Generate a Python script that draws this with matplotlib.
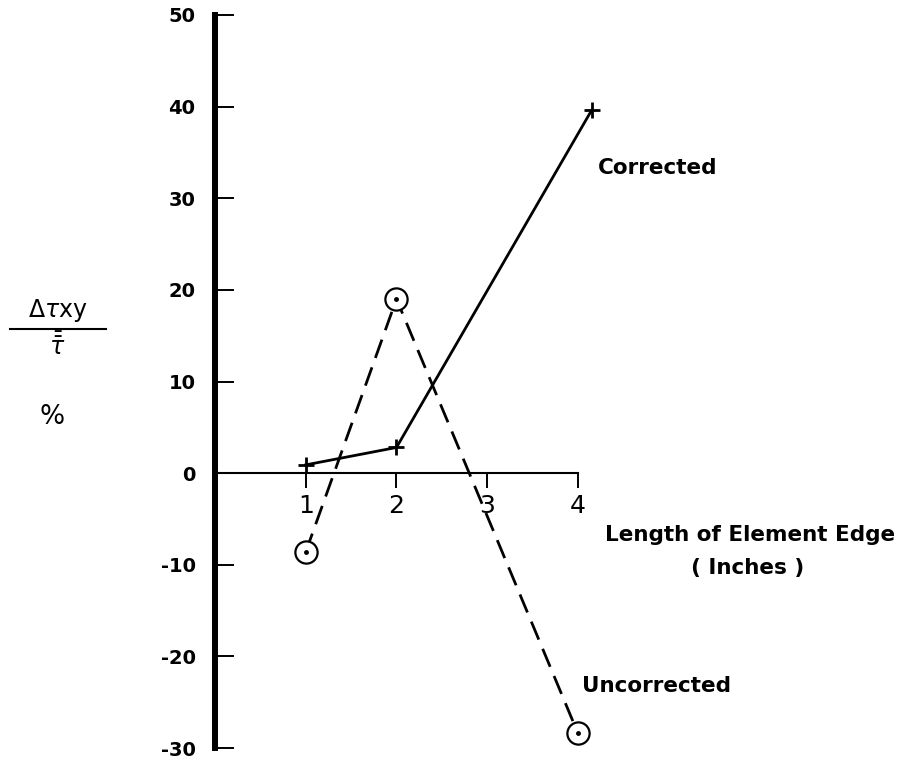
import matplotlib.pyplot as plt
from matplotlib.lines import Line2D

# Data
edge_length = [1, 2, 4]
corrected_x = [1, 2, 4.15]
corrected = [0.9, 2.8, 39.6]
uncorrected = [-8.6, 19, -28.4]

y_ticks = [50, 40, 30, 20, 10, 0, -10, -20, -30]
y_labels = ["50", "40", "30", "20", "10", "0", "-10", "-20", "-30"]
x_ticks = [1, 2, 3, 4]
x_labels = ["1", "2", "3", "4"]

fig = plt.figure(figsize=(9.18, 7.63), dpi=100)
ax = fig.add_axes([215 / 918, 15 / 763, 703 / 918, 733 / 763])
ax.set_xlim(0, 7.747)
ax.set_ylim(-30, 50)

# axes through the origin: thick vertical axis, thin horizontal axis
for side in ["top", "right"]:
    ax.spines[side].set_visible(False)
ax.spines["left"].set_position(("data", 0))
ax.spines["left"].set_bounds(-30, 50)
ax.spines["left"].set_linewidth(4.3)
ax.spines["bottom"].set_position(("data", 0))
ax.spines["bottom"].set_bounds(0, 4)
ax.spines["bottom"].set_linewidth(1.5)

ax.set_yticks(y_ticks)
ax.set_yticklabels(y_labels, fontweight="bold")
ax.set_xticks(x_ticks)
ax.set_xticklabels(x_labels)
ax.tick_params(axis="y", direction="in", length=14, width=1.4, pad=14, labelsize=14)
ax.tick_params(axis="x", direction="out", length=11, width=1.4, pad=4, labelsize=18)

# uncorrected: dashed with open circles
ax.plot(edge_length, uncorrected, color="black", lw=2, dashes=(7, 3.6), zorder=3)
ax.plot(edge_length, uncorrected, ls="none", marker="o", ms=16, mfc="white",
        mec="black", mew=1.6, zorder=4)
ax.plot(edge_length, uncorrected, ls="none", marker="o", ms=2.5, color="black", zorder=5)

# corrected: solid with plus markers
ax.plot(corrected_x, corrected, color="black", lw=2, marker="+", ms=12, mew=2, zorder=3)

lab = dict(fontsize=15.5, fontweight="bold", va="center")
ax.text(4.22, 33.3, "Corrected", ha="left", **lab)
ax.text(4.04, -23.2, "Uncorrected", ha="left", **lab)
ax.text(4.30, -6.8, "Length of Element Edge", ha="left", **lab)
ax.text(5.87, -10.4, "( Inches )", ha="center", **lab)

# y axis label as a fraction
fig.text(58 / 918, 1 - 311 / 763, r"$\Delta\tau$xy", fontsize=17, ha="center", va="center")
fig.add_artist(Line2D([10 / 918, 106 / 918], [1 - 329 / 763, 1 - 329 / 763],
                      color="black", lw=1.5))
fig.text(57 / 918, 1 - 346 / 763, r"$\bar{\bar{\tau}}$", fontsize=17, ha="center", va="center")
fig.text(52 / 918, 1 - 417 / 763, "%", fontsize=19, ha="center", va="center")

plt.savefig("out.png", dpi=100)
